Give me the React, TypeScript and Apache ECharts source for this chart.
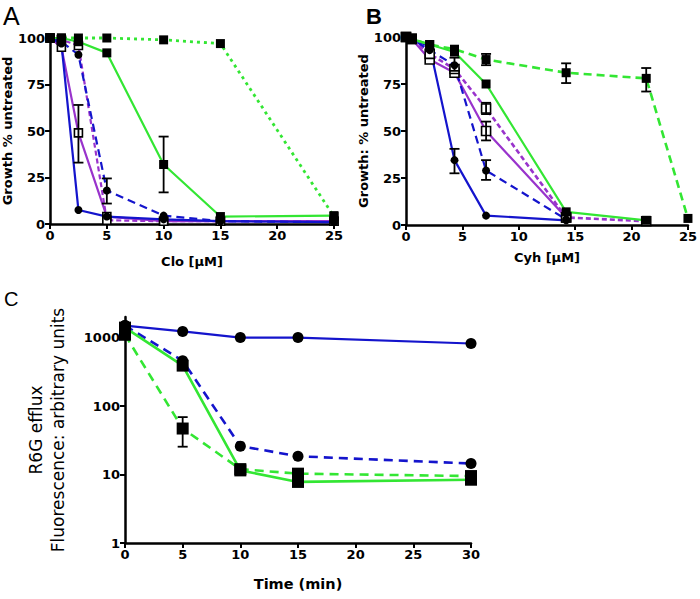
import React, { useEffect, useRef } from "react";
import * as echarts from "echarts";

// ---------- Panel A (Clo) ----------
const aX = [0, 1, 2.5, 5, 10, 15, 25];
const aGreenDotted = [100, 100, 100, 100, 99, 97, 4];
const aGreenSolid = [100, 100, 98, 92, 32, 4, 4.5];
const aBlueSolid = [100, 97, 7.5, 4, 2.5, 1.5, 1];
const aBlueDashed = [100, 98, 91, 18, 4.5, 1.5, 1];
const aPurpleSolid = [100, 95, 49, 4, 1.5, 1.5, 1.5];
const aPurpleDashed = [100, 99, 96, 2, 1.5, 1.5, 1.5];
const aErrors = [
  [10, 17, 47],
  [2.5, 33, 64],
  [5, 11, 24.5],
];

// ---------- Panel B (Cyh) ----------
const bX = [0, 0.5, 2.1, 4.3, 7.1, 14.2, 21.3, 25];
const bGreenDashed = [100, 99, 96, 93.5, 88, 81, 78, 3.5];
const bGreenSolid = [100, 99, 96, 92, 75, 7, 2.5];
const bBlueSolid = [100, 99, 95, 34.5, 5, 2.5];
const bBlueDashed = [100, 99, 93, 85, 29, 3];
const bPurpleSolid = [100, 99, 88, 81, 50, 4];
const bPurpleDashed = [100, 99, 91, 83, 62, 4, 2];
const bErrors = [
  [7.1, 85, 91],
  [14.2, 75.5, 86],
  [21.3, 71, 83.5],
  [4.3, 27.5, 40.5],
  [7.1, 24, 34.5],
  [7.1, 45, 55],
  [7.1, 59, 65],
  [4.3, 82, 89],
];

// ---------- Panel C (R6G efflux) ----------
const cX = [0, 5, 10, 15, 30];
const cBlueSolid = [1500, 1230, 1000, 1000, 820];
const cBlueDashed = [1500, 460, 26, 18.5, 14.5];
const cGreenSolid = [1400, 390, 11.5, 7.8, 8.4];
const cGreenDashed = [1100, 47, 12, 10.3, 9.5];
const cErrors = [[5, 25.5, 69]];
const cTicksY = [1, 10, 100, 1000];

const GREEN = "#33e633";
const BLUE = "#1414cc";
const PURPLE = "#9933cc";
const FONT = "DejaVu Sans";

const pairs = (xs: number[], ys: number[]) => ys.map((y, i) => [xs[i], y]);

function lineSeries(
  idx: number,
  xs: number[],
  ys: number[],
  color: string,
  type: any,
  symbol: "rect" | "circle" | "open",
  size: number,
  width = 2.2
) {
  const open = symbol === "open";
  return {
    type: "line",
    xAxisIndex: idx,
    yAxisIndex: idx,
    data: pairs(xs, ys),
    symbol: open ? "rect" : symbol,
    symbolSize: size,
    clip: false,
    lineStyle: { color, width, type },
    itemStyle: open
      ? { color: "#ffffff", borderColor: "#000000", borderWidth: 1.6 }
      : { color: "#000000", borderWidth: 0 },
    z: 3,
  };
}

function errorSeries(idx: number, data: number[][]) {
  return {
    type: "custom",
    xAxisIndex: idx,
    yAxisIndex: idx,
    data,
    encode: { x: 0, y: [1, 2] },
    clip: false,
    z: 5,
    renderItem: (_p: any, api: any) => {
      const x = api.value(0);
      const lo = api.coord([x, api.value(1)]);
      const hi = api.coord([x, api.value(2)]);
      const w = 5;
      const style = { stroke: "#000", lineWidth: 1.8 };
      return {
        type: "group",
        children: [
          { type: "line", shape: { x1: lo[0], y1: lo[1], x2: hi[0], y2: hi[1] }, style },
          { type: "line", shape: { x1: lo[0] - w, y1: lo[1], x2: lo[0] + w, y2: lo[1] }, style },
          { type: "line", shape: { x1: hi[0] - w, y1: hi[1], x2: hi[0] + w, y2: hi[1] }, style },
        ],
      };
    },
  };
}

const axisCommon = {
  axisLine: { show: true, onZero: false, lineStyle: { color: "#000", width: 2.5 } },
  axisTick: { show: true, length: 5, lineStyle: { color: "#000", width: 2 } },
  axisLabel: { color: "#000", fontSize: 13, fontWeight: "bold", fontFamily: FONT, margin: 5 },
  splitLine: { show: false },
  nameLocation: "middle",
  nameTextStyle: { color: "#000", fontSize: 13, fontWeight: "bold", fontFamily: FONT },
};

export default function App() {
  const ref = useRef<HTMLDivElement>(null);
  useEffect(() => {
    if (!ref.current) return;
    const chart = echarts.init(ref.current, null, { renderer: "svg" });
    chart.setOption({
      animation: false,
      backgroundColor: "#ffffff",
      grid: [
        { left: 50, top: 38, width: 284, height: 186 },
        { left: 406, top: 37, width: 286, height: 188 },
        { left: 125, top: 317, width: 346, height: 226 },
      ],
      xAxis: [
        {
          ...axisCommon,
          gridIndex: 0,
          type: "value",
          min: 0,
          max: 25,
          interval: 5,
          name: "Clo [µM]",
          nameGap: 31,
        },
        {
          ...axisCommon,
          gridIndex: 1,
          type: "value",
          min: 0,
          max: 25,
          interval: 5,
          name: "Cyh [µM]",
          nameGap: 26,
        },
        {
          ...axisCommon,
          gridIndex: 2,
          type: "value",
          min: 0,
          max: 30,
          interval: 5,
          name: "Time (min)",
          nameGap: 33,
          nameTextStyle: { ...axisCommon.nameTextStyle, fontSize: 14.5 },
        },
      ],
      yAxis: [
        {
          ...axisCommon,
          gridIndex: 0,
          type: "value",
          min: 0,
          max: 100,
          interval: 25,
          name: "Growth % untreated",
          nameGap: 36,
        },
        {
          ...axisCommon,
          gridIndex: 1,
          type: "value",
          min: 0,
          max: 100,
          interval: 25,
          name: "Growth: % untreated",
          nameGap: 24,
        },
        {
          ...axisCommon,
          gridIndex: 2,
          type: "log",
          logBase: 10,
          min: 1,
          max: 2000,
          axisTick: { ...axisCommon.axisTick, customValues: cTicksY },
          axisLabel: {
            ...axisCommon.axisLabel,
            customValues: cTicksY,
            formatter: (v: number) => String(Math.round(v)),
          },
          name: "R6G efflux\nFluorescence: arbitrary units",
          nameGap: 56,
          nameTextStyle: { ...axisCommon.nameTextStyle, fontSize: 17, fontWeight: "normal", lineHeight: 22 },
        },
      ],
      graphic: [
        { type: "text", left: 3, top: 3, style: { text: "A", fontSize: 25, fontFamily: "Liberation Sans", fill: "#000" } },
        { type: "text", left: 366, top: 5, style: { text: "B", fontSize: 22, fontWeight: "bold", fontFamily: "Liberation Sans", fill: "#000" } },
        { type: "text", left: 4, top: 289, style: { text: "C", fontSize: 20, fontFamily: "Liberation Sans", fill: "#000" } },
      ],
      series: [
        lineSeries(0, aX, aPurpleSolid, PURPLE, "solid", "open", 8),
        lineSeries(0, aX, aPurpleDashed, PURPLE, [5, 3], "open", 8),
        lineSeries(0, aX, aBlueSolid, BLUE, "solid", "circle", 8),
        lineSeries(0, aX, aBlueDashed, BLUE, [8, 5], "circle", 8),
        lineSeries(0, aX, aGreenDotted, GREEN, [3, 4], "rect", 9, 2.8),
        lineSeries(0, aX, aGreenSolid, GREEN, "solid", "rect", 9),
        errorSeries(0, aErrors),

        lineSeries(1, bX, bPurpleSolid, PURPLE, "solid", "open", 9),
        lineSeries(1, bX, bPurpleDashed, PURPLE, [5, 3], "open", 9, 2.6),
        lineSeries(1, bX, bBlueSolid, BLUE, "solid", "circle", 8),
        lineSeries(1, bX, bBlueDashed, BLUE, [8, 5], "circle", 8),
        lineSeries(1, bX, bGreenDashed, GREEN, [8, 5], "rect", 9, 2.6),
        lineSeries(1, bX, bGreenSolid, GREEN, "solid", "rect", 9),
        errorSeries(1, bErrors),

        lineSeries(2, cX, cBlueSolid, BLUE, "solid", "circle", 11),
        lineSeries(2, cX, cBlueDashed, BLUE, [9, 6], "circle", 11, 2.6),
        lineSeries(2, cX, cGreenDashed, GREEN, [9, 6], "rect", 12, 2.6),
        lineSeries(2, cX, cGreenSolid, GREEN, "solid", "rect", 12, 2.6),
        errorSeries(2, cErrors),
      ],
    });
    return () => chart.dispose();
  }, []);
  return <div ref={ref} style={{ width: 700, height: 599, position: "absolute", left: 0, top: 0 }} />;
}
